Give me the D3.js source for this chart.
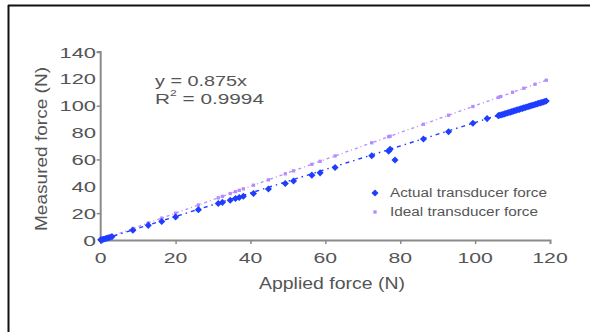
<!DOCTYPE html>
<html>
<head>
<meta charset="utf-8">
<script src="https://cdn.jsdelivr.net/npm/d3@7"></script>
<style>
  html, body { margin: 0; padding: 0; background: #fff; }
  svg { display: block; }
  text { font-family: "Liberation Sans", Arial, sans-serif; fill: #555; }
</style>
</head>
<body>
<svg id="chart" width="590" height="332"></svg>
<script>
// Applied force (N) and the force measured by the transducer (N)
const appliedForce = [0, 0.4, 0.8, 1.2, 1.6, 2.0, 2.5, 3.0, 8.6, 12.7, 16.3, 20.0, 26.1, 31.4, 32.5, 34.6, 36.0,
  37.0, 38.1, 40.8, 44.8, 49.3, 51.5, 56.4, 58.6, 62.6, 72.4, 76.9, 77.3, 78.6, 86.2, 92.9, 99.4, 103.2,
  106.2, 106.6, 107.0, 107.4, 107.8, 108.2, 108.6, 109.0, 109.4, 109.8, 110.2, 110.6, 111.0, 111.4, 111.8,
  112.2, 112.6, 113.0, 113.4, 113.8, 114.2, 114.6, 115.0, 115.4, 115.8, 116.2, 116.6, 117.0, 117.4, 117.8,
  118.2, 118.6, 119.0];
const measuredForce = [0.1, 0.3, 0.6, 0.9, 1.3, 1.6, 2.1, 2.5, 7.3, 10.9, 13.8, 17.1, 22.6, 27.2, 28.0, 29.6, 30.9,
  31.7, 32.6, 34.6, 38.0, 42.1, 43.9, 48.3, 50.0, 54.0, 62.8, 66.2, 67.5, 59.6, 75.2, 80.6, 86.9, 90.4,
  92.6, 92.9, 93.3, 93.5, 93.9, 94.2, 94.6, 94.9, 95.2, 95.6, 96.0, 96.2, 96.7, 97.0, 97.3,
  97.7, 98.0, 98.4, 98.7, 99.0, 99.4, 99.7, 100.1, 100.4, 100.7, 101.1, 101.4, 101.8, 102.1, 102.4,
  102.8, 103.1, 103.5];

// Ideal transducer response (measured = applied)
const idealApplied = [0, 1.5, 3.0, 8.6, 12.7, 16.3, 20.0, 26.1, 31.4, 32.5, 34.6, 36.0, 37.0, 38.1, 40.8, 44.8,
  49.3, 51.5, 56.4, 58.6, 62.6, 72.4, 76.9, 77.3, 86.2, 92.9, 99.4, 106.2, 106.8, 110.0, 113.0, 116.0, 119.0];
const idealMeasured = [0, 1.5, 3.0, 8.6, 12.7, 16.3, 20.0, 26.1, 31.4, 32.5, 34.6, 36.0, 37.0, 38.1, 40.8, 44.8,
  49.3, 51.5, 56.4, 58.6, 62.6, 72.4, 76.9, 77.3, 86.2, 92.9, 99.4, 106.2, 106.8, 110.0, 113.0, 116.0, 119.0];

const xTicks = [0, 20, 40, 60, 80, 100, 120];
const yTicks = [0, 20, 40, 60, 80, 100, 120, 140];
const yMajorTicks = [20, 60, 100, 140];
const seriesNames = ["Actual transducer force", "Ideal transducer force"];
const fitSlope = 0.875;
const fitText = "y = 0.875x";
const r2Text = "0.9994";

const svg = d3.select("#chart");
const x = d3.scaleLinear().domain([0, 120]).range([100.7, 550]);
const y = d3.scaleLinear().domain([0, 140]).range([240, 52]);

const blue = "#1f3dff";
const violet = "#b58cff";
const axisGrey = "#8a8a8a";

// Frame lines
svg.append("line").attr("x1", 8).attr("x2", 590).attr("y1", 5.5).attr("y2", 5.5)
  .attr("stroke", "#111").attr("stroke-width", 2);
svg.append("line").attr("x1", 8.5).attr("x2", 8.5).attr("y1", 5).attr("y2", 332)
  .attr("stroke", "#111").attr("stroke-width", 2);

// Text helper: stretch glyphs to a target width
function label(g, str, px, py, size, width, anchor) {
  return g.append("text").attr("x", px).attr("y", py)
    .attr("font-size", size).attr("text-anchor", anchor || "start")
    .attr("dominant-baseline", "central")
    .attr("textLength", width).attr("lengthAdjust", "spacingAndGlyphs")
    .text(str);
}

// Axes
const xAxis = d3.axisBottom(x).tickValues(xTicks.slice(1, -1)).tickSize(4).tickFormat("");
const yAxis = d3.axisLeft(y).tickValues(yMajorTicks).tickSize(4).tickFormat("");
const gx = svg.append("g").attr("transform", `translate(0,${y(0)})`).call(xAxis);
const gy = svg.append("g").attr("transform", `translate(${x(0)},0)`).call(yAxis);
[gx, gy].forEach(g => {
  g.select(".domain").attr("stroke", axisGrey).attr("stroke-width", 2);
  g.selectAll(".tick line").attr("stroke", axisGrey).attr("stroke-width", 1.5);
});
gy.select(".domain").attr("d", `M-4,${y(140)}H0V${y(0)}`);

const digitW = 11.8;
xTicks.forEach(v => {
  const s = String(v);
  label(svg, s, x(v), 257, 15.5, s.length * digitW, "middle");
});
yTicks.forEach(v => {
  const s = String(v);
  label(svg, s, 96, y(v), 15.5, s.length * digitW + 1, "end");
});

// Axis titles
label(svg, "Applied force (N)", 332, 283, 16, 146, "middle");
svg.append("text").attr("transform", "translate(41,149) rotate(-90)")
  .attr("font-size", 16).attr("text-anchor", "middle").attr("dominant-baseline", "central")
  .attr("textLength", 164).attr("lengthAdjust", "spacingAndGlyphs")
  .text("Measured force (N)");

// Lines through each series
const lineGen = d3.line().x(d => x(d[0])).y(d => y(d[1]));
const idealPts = idealApplied.map((v, i) => [v, idealMeasured[i]]);
const actualPts = appliedForce.map((v, i) => [v, measuredForce[i]]);
const fitPts = [[0, 0], [appliedForce[appliedForce.length - 1], fitSlope * appliedForce[appliedForce.length - 1]]];

svg.append("path").attr("d", lineGen(idealPts)).attr("fill", "none")
  .attr("stroke", violet).attr("stroke-width", 1.3).attr("stroke-dasharray", "3,3,1,3");
svg.append("path").attr("d", lineGen(fitPts)).attr("fill", "none")
  .attr("stroke", blue).attr("stroke-width", 1.4).attr("stroke-dasharray", "4,4,1.5,4");

// Markers
const diamond = d3.symbol().type(d3.symbolDiamond2).size(32);
const square = d3.symbol().type(d3.symbolSquare).size(11);
svg.append("g").selectAll("path").data(idealPts).join("path")
  .attr("d", square).attr("transform", d => `translate(${x(d[0])},${y(d[1])})`)
  .attr("fill", violet);
svg.append("g").selectAll("path").data(actualPts).join("path")
  .attr("d", diamond).attr("transform", d => `translate(${x(d[0])},${y(d[1])})`)
  .attr("fill", blue);

// Fit equation
label(svg, fitText, 155, 80, 15.5, 92);
const r2 = svg.append("text").attr("x", 155).attr("y", 98).attr("font-size", 15.5)
  .attr("dominant-baseline", "central");
r2.append("tspan").text("R");
r2.append("tspan").attr("font-size", 9).attr("dy", -5).text("2");
r2.append("tspan").attr("dy", 5).text(" = " + r2Text);
r2.attr("textLength", 109).attr("lengthAdjust", "spacingAndGlyphs");

// Legend
const legend = svg.append("g");
legend.append("path").attr("d", diamond).attr("transform", "translate(375,193)").attr("fill", blue);
legend.append("path").attr("d", square).attr("transform", "translate(375,212)").attr("fill", violet);
label(legend, seriesNames[0], 390, 193, 12.5, 157);
label(legend, seriesNames[1], 390, 212, 12.5, 148);
</script>
</body>
</html>
